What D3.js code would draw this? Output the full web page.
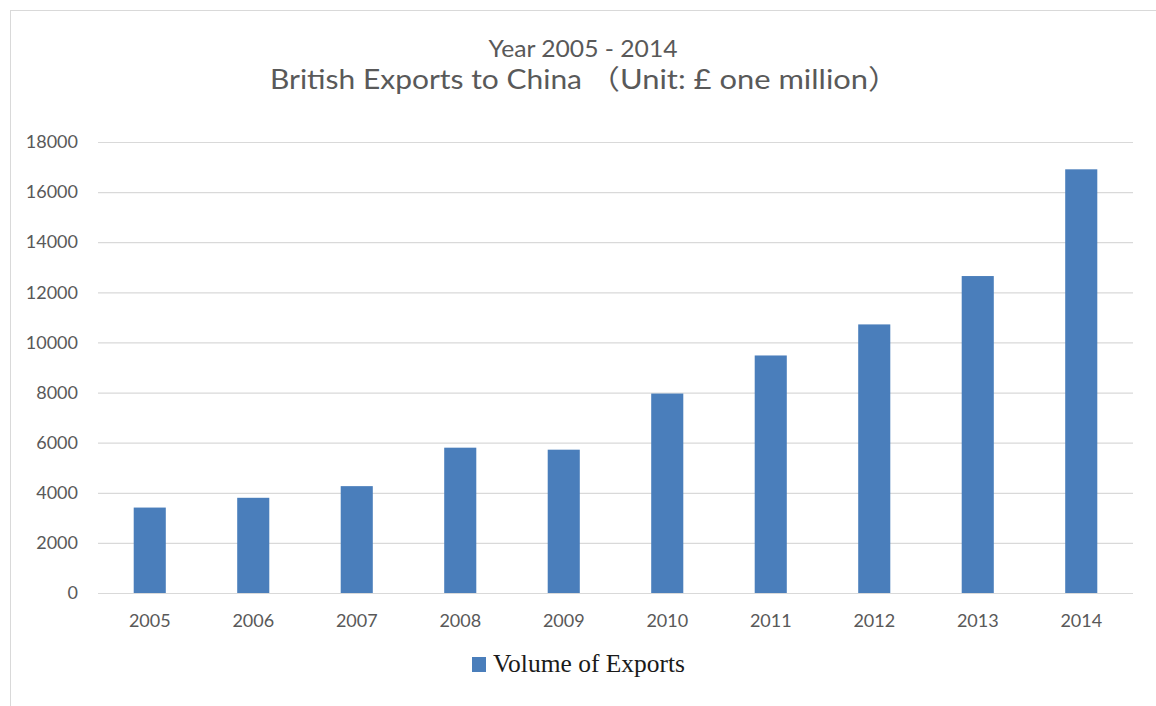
<!DOCTYPE html>
<html>
<head>
<meta charset="utf-8">
<script src="https://cdnjs.cloudflare.com/ajax/libs/d3/7.8.5/d3.min.js"></script>
<style>
  body { margin: 0; background: #fff; }
  .tick text { fill: #595959; font-family: Lato, "Open Sans", sans-serif; font-size: 18px; }
  .title { fill: #595959; font-family: Lato, "Noto Sans CJK SC", sans-serif; }
</style>
</head>
<body>
<div class="panel"></div>
<script>
const width = 1156;
const height = 706;
const margins = {top: 142, right: 23, bottom: 113, left: 98};

const years = ["2005", "2006", "2007", "2008", "2009", "2010", "2011", "2012", "2013", "2014"];
const exportsValues = [3410, 3800, 4265, 5800, 5720, 7960, 9480, 10720, 12650, 16910];
const yTicks = [0, 2000, 4000, 6000, 8000, 10000, 12000, 14000, 16000, 18000];
const seriesName = "Volume of Exports";
const subTitle = "Year 2005 - 2014";
const mainTitle = "British Exports to China";
const unitTitle = "（Unit: £ one million）";

const barColour = "#4a7ebb";

const svg = d3.select(".panel")
  .append("svg")
  .attr("width", width)
  .attr("height", height);

// frame lines of the original screenshot
svg.append("line")
  .attr("x1", 10).attr("x2", width).attr("y1", 10.5).attr("y2", 10.5)
  .attr("stroke", "#d9d9d9");
svg.append("line")
  .attr("x1", 10.5).attr("x2", 10.5).attr("y1", 10).attr("y2", height)
  .attr("stroke", "#d9d9d9");

const xScale = d3.scaleBand()
  .domain(years)
  .range([margins.left, width - margins.right])
  .paddingInner(0.69)
  .paddingOuter(0.345);

const yScale = d3.scaleLinear()
  .domain([0, 18000])
  .range([height - margins.bottom, margins.top]);

// gridlines
const grid = d3.axisLeft(yScale)
  .tickValues(yTicks)
  .tickSize(-(width - margins.left - margins.right))
  .tickFormat("");

svg.append("g")
  .attr("transform", `translate(${margins.left}, 0)`)
  .call(grid)
  .call(g => g.select(".domain").remove())
  .call(g => g.selectAll("line").attr("stroke", "#d9d9d9").attr("stroke-width", 1.2));

// y labels
svg.append("g")
  .attr("transform", `translate(${margins.left - 20}, 0)`)
  .call(d3.axisLeft(yScale).tickValues(yTicks).tickSize(0).tickPadding(0).tickFormat(d3.format("d")))
  .call(g => g.select(".domain").remove());

// bars
svg.selectAll(".bar")
  .data(exportsValues)
  .enter()
  .append("rect")
  .attr("class", "bar")
  .attr("x", (d, i) => xScale(years[i]))
  .attr("width", xScale.bandwidth())
  .attr("y", d => yScale(d))
  .attr("height", d => yScale(0) - yScale(d))
  .attr("fill", barColour);

// x labels
svg.append("g")
  .attr("transform", `translate(0, ${height - margins.bottom})`)
  .call(d3.axisBottom(xScale).tickSize(0).tickPadding(21))
  .call(g => g.select(".domain").remove());

// titles (the source picture is a little stretched sideways)
svg.append("text")
  .attr("class", "title")
  .attr("x", 583)
  .attr("y", 57)
  .attr("text-anchor", "middle")
  .attr("font-size", 24)
  .attr("textLength", 189)
  .attr("lengthAdjust", "spacingAndGlyphs")
  .text(subTitle);

svg.append("text")
  .attr("class", "title")
  .attr("x", 270)
  .attr("y", 89)
  .attr("font-size", 27)
  .attr("textLength", 312)
  .attr("lengthAdjust", "spacingAndGlyphs")
  .text(mainTitle);

svg.append("text")
  .attr("class", "title")
  .attr("x", 589)
  .attr("y", 89)
  .attr("font-size", 27)
  .attr("textLength", 310)
  .attr("lengthAdjust", "spacingAndGlyphs")
  .text(unitTitle);

// legend
const legend = svg.append("g").attr("transform", "translate(472, 657)");
legend.append("rect")
  .attr("width", 14)
  .attr("height", 15)
  .attr("fill", barColour);
legend.append("text")
  .attr("x", 21)
  .attr("y", 15)
  .attr("font-family", "'Liberation Serif', 'Times New Roman', serif")
  .attr("font-size", 25)
  .attr("fill", "#1a1a1a")
  .attr("textLength", 192)
  .attr("lengthAdjust", "spacingAndGlyphs")
  .text(seriesName);
</script>
</body>
</html>
